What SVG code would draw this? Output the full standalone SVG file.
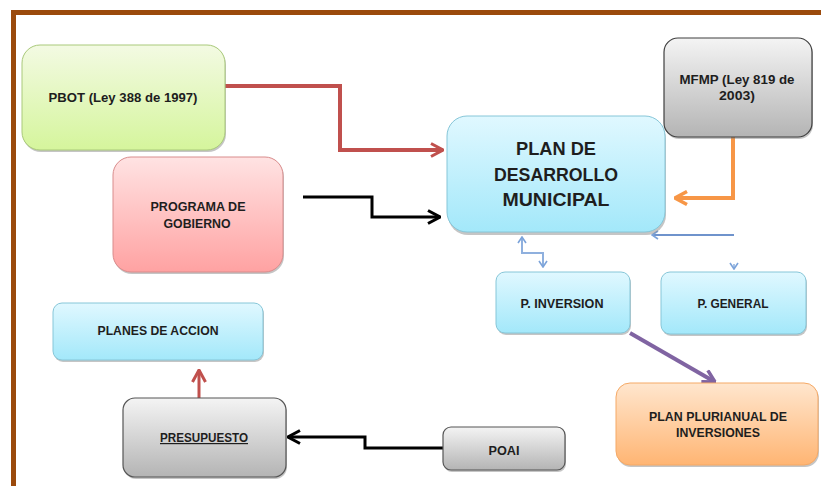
<svg xmlns="http://www.w3.org/2000/svg" width="821" height="486" viewBox="0 0 821 486">
<style>
  text { font-family: "Liberation Sans", Arial, sans-serif; font-weight: bold; fill: #1e1e1e; text-anchor: middle; }
  .s { font-size: 12px; }
  .l { font-size: 18px; }
  .shadow { fill: #7f7f7f; opacity: 0.45; }
  .c { fill: none; stroke-linejoin: miter; }
</style>
<defs>
  <linearGradient id="gGreen" x1="0" y1="0" x2="0" y2="1"><stop offset="0" stop-color="#F3FAE3"/><stop offset="1" stop-color="#D5F59C"/></linearGradient>
  <linearGradient id="gRed" x1="0" y1="0" x2="0" y2="1"><stop offset="0" stop-color="#FFE3E3"/><stop offset="1" stop-color="#FFA2A2"/></linearGradient>
  <linearGradient id="gBlue" x1="0" y1="0" x2="0" y2="1"><stop offset="0" stop-color="#E0F8FF"/><stop offset="1" stop-color="#A3E8FA"/></linearGradient>
  <linearGradient id="gGray" x1="0" y1="0" x2="0" y2="1"><stop offset="0" stop-color="#F4F4F4"/><stop offset="1" stop-color="#B4B4B4"/></linearGradient>
  <linearGradient id="gOrange" x1="0" y1="0" x2="0" y2="1"><stop offset="0" stop-color="#FFE6CE"/><stop offset="1" stop-color="#FFB573"/></linearGradient>
  <marker id="aRed" viewBox="0 0 14 16" refX="13" refY="8" markerWidth="14" markerHeight="16" markerUnits="userSpaceOnUse" orient="auto"><path d="M1,1.5 L13,8 L1,14.5" fill="none" stroke="#C0504D" stroke-width="3"/></marker>
  <marker id="aBlack" viewBox="0 0 14 16" refX="13" refY="8" markerWidth="14" markerHeight="16" markerUnits="userSpaceOnUse" orient="auto"><path d="M1,1.5 L13,8 L1,14.5" fill="none" stroke="#000" stroke-width="3"/></marker>
  <marker id="aOrange" viewBox="0 0 14 16" refX="13" refY="8" markerWidth="14" markerHeight="16" markerUnits="userSpaceOnUse" orient="auto"><path d="M1,1.5 L13,8 L1,14.5" fill="none" stroke="#F79646" stroke-width="3.5"/></marker>
  <marker id="aPurple" viewBox="0 0 14 16" refX="13" refY="8" markerWidth="14" markerHeight="16" markerUnits="userSpaceOnUse" orient="auto"><path d="M1,1.5 L13,8 L1,14.5" fill="none" stroke="#8064A2" stroke-width="3.5"/></marker>
  <marker id="aBlue" viewBox="0 0 8 10" refX="7" refY="5" markerWidth="8" markerHeight="10" markerUnits="userSpaceOnUse" orient="auto-start-reverse"><path d="M1,1 L7,5 L1,9" fill="none" stroke="#7BA3DA" stroke-width="1.6"/></marker>
</defs>

<rect x="0" y="0" width="821" height="486" fill="#ffffff"/>
<!-- frame -->
<path d="M13.5,486 V12.5 H821" fill="none" stroke="#9B4A0C" stroke-width="5"/>

<g id="connectors">
  <path class="c" d="M225,86 H340 V150 H443" stroke="#C0504D" stroke-width="4" marker-end="url(#aRed)"/>
  <path class="c" d="M303,197 H372 V217 H440" stroke="#000" stroke-width="3" marker-end="url(#aBlack)"/>
  <path class="c" d="M733,137 V198 H675" stroke="#F79646" stroke-width="4" marker-end="url(#aOrange)"/>
  <path class="c" d="M734,235 H652" stroke="#6F93CC" stroke-width="2" marker-end="url(#aBlue)"/>
  <path class="c" d="M522,237 V253 H543 V267" stroke="#8FB0DE" stroke-width="2" marker-start="url(#aBlue)" marker-end="url(#aBlue)"/>
  <path class="c" d="M734,264 V269" stroke="#8FB0DE" stroke-width="1.5" marker-end="url(#aBlue)"/>
  <path class="c" d="M630,333 L715,382" stroke="#8064A2" stroke-width="4" marker-end="url(#aPurple)"/>
  <path class="c" d="M199,398 V370" stroke="#C0504D" stroke-width="3" marker-end="url(#aRed)"/>
  <path class="c" d="M443,448 H365 V437 H288" stroke="#000" stroke-width="3" marker-end="url(#aBlack)"/>
</g>

<g id="pbot">
  <rect class="shadow" x="23" y="47" width="203" height="105" rx="18"/>
  <rect x="22" y="45" width="203" height="105" rx="18" fill="url(#gGreen)" stroke="#A9C97A" stroke-width="1"/>
  <text class="s" x="123" y="102" textLength="149" lengthAdjust="spacingAndGlyphs">PBOT (Ley 388 de 1997)</text>
</g>

<g id="programa">
  <rect class="shadow" x="114" y="159" width="170" height="115" rx="18"/>
  <rect x="113" y="157" width="170" height="115" rx="18" fill="url(#gRed)" stroke="#D98C8C" stroke-width="1"/>
  <text class="s" x="198" y="211" textLength="95" lengthAdjust="spacingAndGlyphs">PROGRAMA DE</text>
  <text class="s" x="197" y="228" textLength="67" lengthAdjust="spacingAndGlyphs">GOBIERNO</text>
</g>

<g id="plan-desarrollo">
  <rect class="shadow" x="448" y="119" width="218" height="116" rx="20"/>
  <rect x="447" y="116" width="218" height="116" rx="20" fill="url(#gBlue)" stroke="#86C6D8" stroke-width="1"/>
  <text class="l" x="556" y="155" textLength="80" lengthAdjust="spacingAndGlyphs">PLAN DE</text>
  <text class="l" x="556" y="181" textLength="124" lengthAdjust="spacingAndGlyphs">DESARROLLO</text>
  <text class="l" x="556" y="206" textLength="107" lengthAdjust="spacingAndGlyphs">MUNICIPAL</text>
</g>

<g id="mfmp">
  <rect class="shadow" x="665" y="40" width="148" height="99" rx="14"/>
  <rect x="664" y="38" width="148" height="99" rx="14" fill="url(#gGray)" stroke="#3F3F3F" stroke-width="1.2"/>
  <text class="s" x="737" y="84" textLength="115" lengthAdjust="spacingAndGlyphs">MFMP (Ley 819 de</text>
  <text class="s" x="737" y="100" textLength="36" lengthAdjust="spacingAndGlyphs">2003)</text>
</g>

<g id="p-inversion">
  <rect class="shadow" x="497" y="274" width="134" height="61" rx="9"/>
  <rect x="496" y="272" width="134" height="61" rx="9" fill="url(#gBlue)" stroke="#86C6D8" stroke-width="1"/>
  <text class="s" x="562" y="308" textLength="83" lengthAdjust="spacingAndGlyphs">P. INVERSION</text>
</g>

<g id="p-general">
  <rect class="shadow" x="662" y="274" width="145" height="62" rx="9"/>
  <rect x="661" y="272" width="145" height="62" rx="9" fill="url(#gBlue)" stroke="#86C6D8" stroke-width="1"/>
  <text class="s" x="733" y="308" textLength="71" lengthAdjust="spacingAndGlyphs">P. GENERAL</text>
</g>

<g id="planes-accion">
  <rect class="shadow" x="54" y="305" width="210" height="57" rx="9"/>
  <rect x="53" y="303" width="210" height="57" rx="9" fill="url(#gBlue)" stroke="#86C6D8" stroke-width="1"/>
  <text class="s" x="158" y="335" textLength="121" lengthAdjust="spacingAndGlyphs">PLANES DE ACCION</text>
</g>

<g id="presupuesto">
  <rect class="shadow" x="124" y="400" width="163" height="79" rx="12"/>
  <rect x="123" y="398" width="163" height="79" rx="12" fill="url(#gGray)" stroke="#555555" stroke-width="1.2"/>
  <text class="s" x="204" y="442" textLength="88" lengthAdjust="spacingAndGlyphs" text-decoration="underline">PRESUPUESTO</text>
</g>

<g id="poai">
  <rect class="shadow" x="444" y="429" width="122" height="43" rx="8"/>
  <rect x="443" y="427" width="122" height="43" rx="8" fill="url(#gGray)" stroke="#555555" stroke-width="1.2"/>
  <text class="s" x="504" y="455" textLength="31" lengthAdjust="spacingAndGlyphs">POAI</text>
</g>

<g id="plan-plurianual">
  <rect class="shadow" x="617" y="385" width="202" height="82" rx="14"/>
  <rect x="616" y="383" width="202" height="82" rx="14" fill="url(#gOrange)" stroke="#F5A966" stroke-width="1"/>
  <text class="s" x="718" y="421" textLength="138" lengthAdjust="spacingAndGlyphs">PLAN PLURIANUAL DE</text>
  <text class="s" x="718" y="437" textLength="84" lengthAdjust="spacingAndGlyphs">INVERSIONES</text>
</g>
</svg>
